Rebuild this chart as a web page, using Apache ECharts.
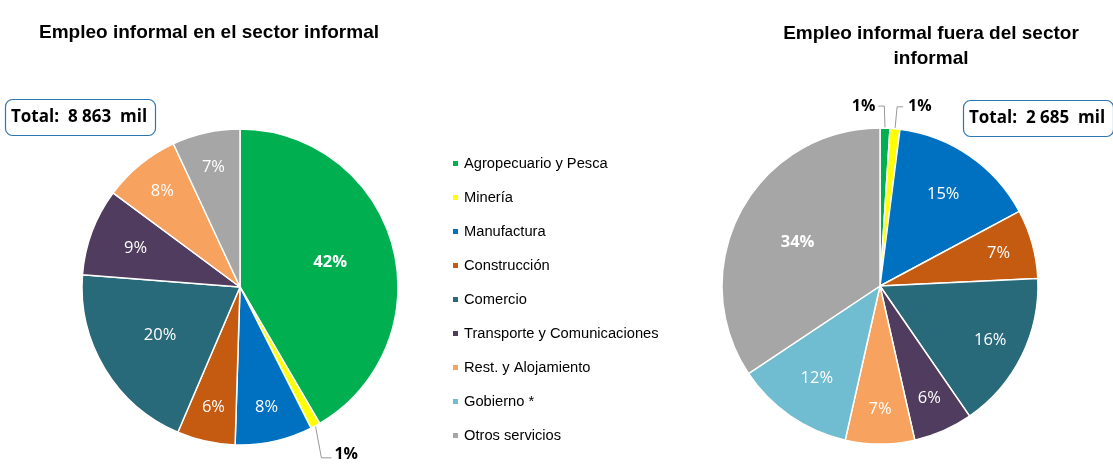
<!DOCTYPE html>
<html>
<head>
<meta charset="utf-8">
<script src="https://cdn.jsdelivr.net/npm/echarts@6/dist/echarts.min.js"></script>
<style>
  html, body { margin: 0; padding: 0; background: #fff; }
  #chart { width: 1113px; height: 464px; }
</style>
</head>
<body>
<div id="chart"></div>
<script>
// categorías y colores
const categories = ['Agropecuario y Pesca', 'Minería', 'Manufactura', 'Construcción', 'Comercio',
  'Transporte y Comunicaciones', 'Rest. y Alojamiento', 'Gobierno *', 'Otros servicios'];
const sliceColors = ['#00B050', '#FFFF00', '#0070C0', '#C55A11', '#296A7A',
  '#4F3C5E', '#F7A25E', '#70BCD0', '#A6A6A6'];

// porcentajes (%)
const enSector = [42, 1, 8, 6, 20, 9, 8, 0, 7];
const fueraSector = [1, 1, 15, 7, 16, 6, 7, 12, 34];

const totalEn = '8 863';
const totalFuera = '2 685';

const centers = [[240, 287], [880, 286]];
const radii = [158, 158];

function buildData(values, boldName, lineLen) {
  const out = [];
  values.forEach((v, i) => {
    if (!v) return;
    const item = {
      name: categories[i],
      value: v,
      itemStyle: { color: sliceColors[i] }
    };
    if (v <= 1) {
      item.label = { position: 'outside', color: '#000', fontWeight: 'bold', fontSize: 16 };
      item.labelLine = { show: true, length: lineLen, length2: 6 };
    } else if (categories[i] === boldName) {
      item.label = { fontWeight: 'bold' };
    }
    out.push(item);
  });
  return out;
}

const chart = echarts.init(document.getElementById('chart'));

// etiquetas internas más hacia afuera (como Excel); ajustes de las guías del 1%
function layoutLabels(params) {
  const s = params.seriesIndex;
  const vals = s === 0 ? enSector.filter(v => v) : fueraSector.filter(v => v);
  const v = vals[params.dataIndex];
  const r = params.labelRect;
  if (v > 1) {
    const c = centers[s];
    const f = v >= 20 ? 0.57 : (v >= 9 && v < 16 ? 0.68 : 0.75);
    const cx = r.x + r.width / 2, cy = r.y + r.height / 2;
    return { dx: (cx - c[0]) * (2 * f - 1), dy: (cy - c[1]) * (2 * f - 1) };
  }
  const p = params.labelLinePoints;
  if (!p) return {};
  if (s === 1 && params.dataIndex === 0) {
    // voltear a la izquierda
    const p1 = [p[0][0] - (p[1][0] - p[0][0]), p[1][1]];
    const p2 = [p1[0] - (p[2][0] - p[1][0]), p[2][1]];
    return { dx: p2[0] - 3 - (r.x + r.width), labelLinePoints: [p[0], p1, p2] };
  }
  if (s === 0) {
    // guía casi vertical hacia abajo
    const p1 = [p[0][0] + 6, p[0][1] + 32];
    const p2 = [p1[0] + 10, p1[1]];
    return {
      dx: p2[0] + 3 - r.x,
      dy: p2[1] - 3 - (r.y + r.height / 2),
      labelLinePoints: [p[0], p1, p2]
    };
  }
  return {};
}

const pieBase = {
  type: 'pie',
  startAngle: 90,
  clockwise: true,
  avoidLabelOverlap: false,
  itemStyle: { borderColor: '#fff', borderWidth: 1.5 },
  label: {
    show: true,
    position: 'inside',
    formatter: '{c}%',
    color: '#fff',
    fontSize: 16.5,
    fontFamily: 'Open Sans'
  },
  labelLine: {
    show: false,
    lineStyle: { color: '#999', width: 1 }
  },
  labelLayout: layoutLabels,
  emphasis: { disabled: true }
};

const totalStyle = {
  padding: [10, 9, 10, 6],
  borderColor: '#2E75B6', borderWidth: 1.2, borderRadius: 7,
  textStyle: { fontFamily: 'Open Sans', fontSize: 17, fontWeight: 'bold', color: '#000' }
};

const option = {
  animation: false,
  title: [
    {
      text: 'Empleo informal en el sector informal',
      left: 204, top: 18, textAlign: 'center',
      textStyle: { fontFamily: 'Liberation Sans', fontSize: 19, fontWeight: 'bold', color: '#000' }
    },
    {
      text: 'Empleo informal fuera del sector\ninformal',
      left: 926, top: 16, textAlign: 'center',
      textStyle: { fontFamily: 'Liberation Sans', fontSize: 19, fontWeight: 'bold', color: '#000', lineHeight: 25 }
    },
    Object.assign({ text: 'Total:  ' + totalEn + '  mil', left: 5, top: 99 }, totalStyle),
    Object.assign({ text: 'Total:  ' + totalFuera + '  mil', left: 963, top: 100 }, totalStyle)
  ],
  legend: {
    orient: 'vertical',
    left: 446, top: 151,
    itemWidth: 7, itemHeight: 7, itemGap: 19,
    icon: 'rect',
    data: categories,
    textStyle: { fontFamily: 'Liberation Sans', fontSize: 14.7, color: '#000' }
  },
  series: [
    Object.assign({}, pieBase, {
      name: 'En el sector informal',
      center: centers[0],
      radius: radii[0],
      data: buildData(enSector, 'Agropecuario y Pesca', 20)
    }),
    Object.assign({}, pieBase, {
      name: 'Fuera del sector informal',
      center: centers[1],
      radius: radii[1],
      data: buildData(fueraSector, 'Otros servicios', 22)
    })
  ]
};

chart.setOption(option);
</script>
</body>
</html>
